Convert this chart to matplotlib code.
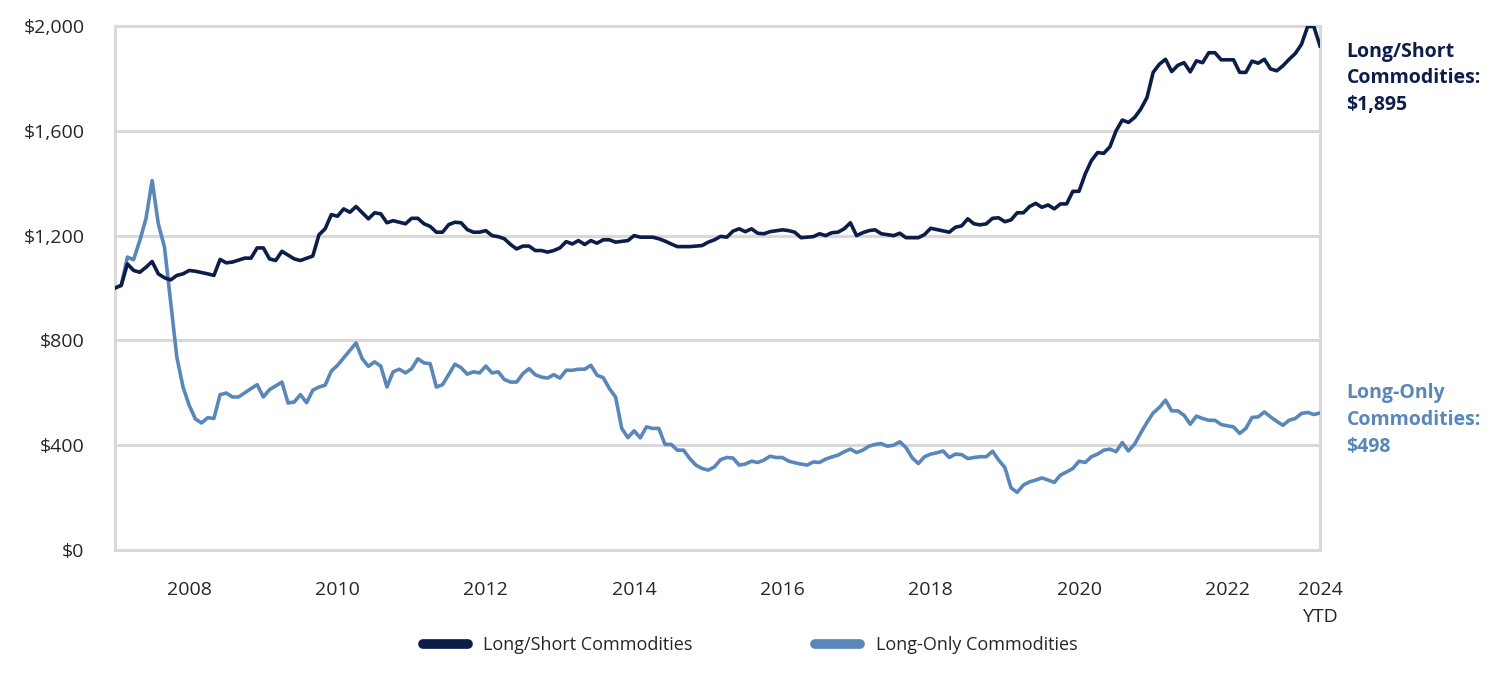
import numpy as np
import matplotlib.pyplot as plt

plt.rcParams['font.family'] = ['Open Sans', 'DejaVu Sans']

# month index 0 = Dec 2007, 195 = Mar 2024 (vertices)
ls_months = [0, 1, 2, 3, 4, 5, 6, 7, 8, 9, 10, 11, 12, 13, 15, 16, 17, 18, 19, 21,
             22, 23, 24, 25, 26, 27, 29, 30, 32, 33, 34, 35, 36, 37, 38, 39, 41, 42, 43, 44,
             45, 47, 48, 49, 50, 51, 52, 53, 54, 55, 56, 57, 58, 59, 60, 61, 62, 63, 64, 65,
             66, 67, 68, 69, 70, 71, 72, 73, 74, 75, 76, 77, 78, 79, 80, 81, 83, 84, 85, 87,
             88, 89, 90, 91, 93, 95, 96, 97, 98, 99, 100, 101, 102, 103, 104, 105, 106, 108, 109, 110,
             111, 113, 114, 115, 116, 117, 118, 119, 120, 121, 122, 123, 124, 126, 127, 128, 130, 131, 132, 133,
             135, 136, 137, 138, 139, 140, 141, 142, 143, 144, 145, 146, 147, 148, 149, 150, 151, 152, 153, 154,
             155, 156, 157, 158, 159, 160, 161, 162, 163, 164, 165, 166, 167, 168, 169, 170, 171, 172, 173, 174,
             175, 176, 177, 178, 179, 181, 182, 183, 184, 185, 186, 187, 188, 189, 190, 191, 192, 193, 194, 195]
ls_values = [1000, 1010, 1092, 1067, 1060, 1079, 1101, 1054, 1039, 1031, 1048, 1054, 1067, 1064, 1054, 1048, 1109, 1096, 1099, 1114,
             1114, 1153, 1153, 1111, 1105, 1140, 1111, 1105, 1122, 1203, 1226, 1280, 1274, 1302, 1289, 1311, 1264, 1287, 1283, 1249,
             1257, 1245, 1266, 1266, 1245, 1235, 1213, 1213, 1242, 1251, 1249, 1223, 1213, 1213, 1219, 1200, 1196, 1188, 1166, 1149,
             1160, 1160, 1143, 1143, 1137, 1143, 1153, 1177, 1168, 1181, 1166, 1181, 1171, 1184, 1184, 1175, 1181, 1200, 1194, 1194,
             1188, 1179, 1168, 1158, 1158, 1162, 1175, 1184, 1197, 1194, 1217, 1226, 1215, 1226, 1209, 1207, 1215, 1222, 1219, 1213,
             1192, 1196, 1207, 1200, 1211, 1213, 1226, 1249, 1200, 1211, 1219, 1222, 1207, 1200, 1209, 1192, 1192, 1204, 1228, 1223,
             1213, 1232, 1237, 1264, 1245, 1241, 1245, 1266, 1268, 1253, 1260, 1287, 1287, 1311, 1323, 1308, 1317, 1302, 1321, 1321,
             1369, 1369, 1435, 1486, 1517, 1514, 1539, 1600, 1641, 1632, 1651, 1683, 1727, 1823, 1854, 1873, 1826, 1850, 1860, 1825,
             1867, 1860, 1898, 1898, 1871, 1871, 1823, 1823, 1866, 1858, 1873, 1836, 1829, 1848, 1873, 1895, 1930, 1998, 1998, 1924]

lo_months = [0, 1, 2, 3, 4, 5, 6, 7, 8, 10, 11, 12, 13, 14, 15, 16, 17, 18, 19, 20,
             22, 23, 24, 25, 27, 28, 29, 30, 31, 32, 33, 34, 35, 36, 39, 40, 41, 42, 43, 44,
             45, 46, 47, 48, 49, 50, 51, 52, 53, 55, 56, 57, 58, 59, 60, 61, 62, 63, 64, 65,
             66, 67, 68, 69, 70, 71, 72, 73, 74, 75, 76, 77, 78, 79, 80, 81, 82, 83, 84, 85,
             86, 87, 88, 89, 90, 91, 92, 93, 94, 95, 96, 97, 98, 99, 100, 101, 102, 103, 104, 105,
             106, 107, 108, 109, 110, 111, 112, 113, 114, 115, 116, 117, 118, 119, 120, 121, 122, 123, 124, 125,
             126, 127, 128, 129, 130, 131, 132, 133, 134, 135, 136, 137, 138, 139, 140, 141, 142, 143, 144, 145,
             146, 147, 148, 149, 150, 151, 152, 153, 154, 155, 156, 157, 158, 159, 160, 161, 162, 163, 164, 165,
             166, 167, 168, 169, 170, 171, 172, 173, 174, 175, 176, 177, 178, 179, 180, 181, 182, 183, 184, 185,
             186, 187, 188, 189, 190, 191, 192, 193, 194, 195]
lo_values = [1000, 1010, 1118, 1108, 1181, 1264, 1410, 1245, 1156, 736, 622, 552, 500, 485, 505, 502, 593, 599, 584, 584,
             616, 631, 584, 612, 641, 561, 565, 593, 562, 610, 622, 629, 683, 705, 790, 730, 701, 718, 702, 622,
             680, 690, 676, 692, 730, 714, 711, 622, 631, 709, 696, 671, 680, 676, 702, 676, 680, 651, 641, 641,
             673, 692, 669, 660, 656, 669, 656, 686, 686, 690, 690, 705, 667, 658, 616, 584, 464, 429, 455, 428,
             470, 464, 464, 403, 403, 381, 381, 349, 324, 311, 305, 317, 345, 353, 351, 324, 328, 339, 334, 343,
             358, 353, 353, 339, 333, 328, 324, 336, 334, 347, 355, 362, 375, 385, 372, 381, 396, 403, 406, 396,
             400, 413, 391, 352, 330, 356, 366, 371, 378, 353, 366, 364, 349, 353, 356, 356, 377, 343, 315, 237,
             220, 248, 260, 267, 275, 267, 258, 286, 298, 311, 339, 334, 356, 366, 381, 385, 375, 410, 378, 404,
             447, 487, 523, 544, 572, 531, 531, 514, 480, 511, 502, 495, 495, 479, 474, 470, 445, 464, 506, 508,
             527, 508, 491, 476, 495, 502, 521, 525, 517, 523]

tick_months = [12, 36, 60, 84, 108, 132, 156, 180, 195]
tick_labels = ['2008', '2010', '2012', '2014', '2016', '2018', '2020', '2022', '2024\nYTD']
y_ticks = [0, 400, 800, 1200, 1600, 2000]

dark = '#0c1d4a'
light = '#5a87b9'
grid_col = '#d9d9d9'
text_col = '#262626'

fig = plt.figure(figsize=(15, 6.79), dpi=100)
ax = fig.add_axes([0.0767, 0.19, 0.8033, 0.7717])

for y in y_ticks:
    ax.axhline(y, color=grid_col, linewidth=2.2, zorder=1)

ax.plot(lo_months, lo_values, color=light, linewidth=2.6, zorder=3, label='Long-Only Commodities')
ax.plot(ls_months, ls_values, color=dark, linewidth=2.6, zorder=4, label='Long/Short Commodities')

ax.set_xlim(0, 195)
ax.set_ylim(0, 2000)
ax.set_yticks(y_ticks)
ax.set_yticklabels(['$' + format(v, ',') for v in y_ticks], fontsize=14, color=text_col)
ax.set_xticks(tick_months)
ax.set_xticklabels(tick_labels, fontsize=14, color=text_col, linespacing=1.7, va='top')
ax.tick_params(axis='both', length=0)
ax.tick_params(axis='x', pad=22)
ax.tick_params(axis='y', pad=22)

for side in ['left', 'right', 'top', 'bottom']:
    ax.spines[side].set_color(grid_col)
    ax.spines[side].set_linewidth(2.2)

# end labels
ax.text(1.022, 0.97, 'Long/Short\nCommodities:\n$1,895', transform=ax.transAxes,
        fontsize=14, fontweight='bold', color=dark, va='top', ha='left', linespacing=1.45)
ax.text(1.022, 0.318, 'Long-Only\nCommodities:\n$498', transform=ax.transAxes,
        fontsize=14, fontweight='bold', color=light, va='top', ha='left', linespacing=1.45)

handles, labels = ax.get_legend_handles_labels()
leg = fig.legend(handles[::-1], labels[::-1], loc='center', bbox_to_anchor=(0.5, 0.05),
                 ncol=2, frameon=False, fontsize=13, handlelength=2.5, columnspacing=6.8,
                 handletextpad=0.85)
for line in leg.get_lines():
    line.set_linewidth(7)
    line.set_solid_capstyle('round')
for t in leg.get_texts():
    t.set_color(text_col)

fig.savefig('out.png', dpi=100)
